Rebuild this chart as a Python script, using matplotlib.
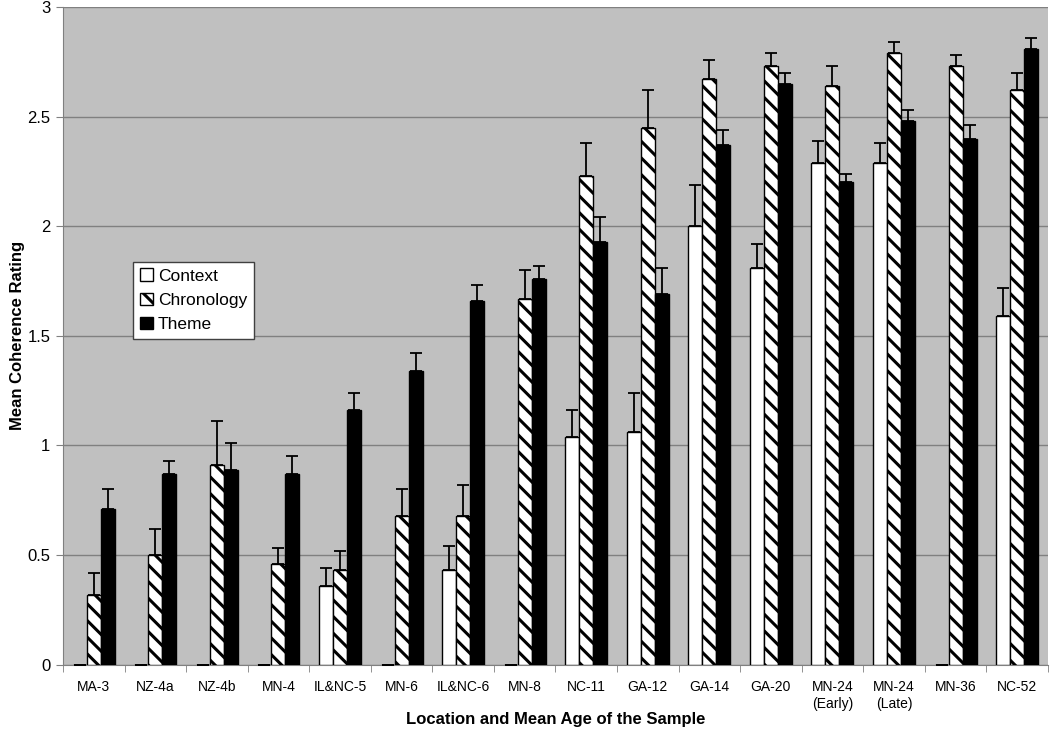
import numpy as np
import matplotlib
matplotlib.use("Agg")
import matplotlib.pyplot as plt

plt.rcParams['font.family'] = ['Liberation Sans', 'DejaVu Sans']
plt.rcParams['hatch.linewidth'] = 2.2

samples = ["MA-3", "NZ-4a", "NZ-4b", "MN-4", "IL&NC-5", "MN-6", "IL&NC-6", "MN-8",
           "NC-11", "GA-12", "GA-14", "GA-20", "MN-24\n(Early)", "MN-24\n(Late)",
           "MN-36", "NC-52"]

context = [0, 0, 0, 0, 0.36, 0, 0.43, 0, 1.04, 1.06, 2.00, 1.81, 2.29, 2.29, 0, 1.59]
context_err = [0, 0, 0, 0, 0.08, 0, 0.11, 0, 0.12, 0.18, 0.19, 0.11, 0.10, 0.09, 0, 0.13]

chronology = [0.32, 0.50, 0.91, 0.46, 0.43, 0.68, 0.68, 1.67, 2.23, 2.45, 2.67, 2.73,
              2.64, 2.79, 2.73, 2.62]
chronology_err = [0.10, 0.12, 0.20, 0.07, 0.09, 0.12, 0.14, 0.13, 0.15, 0.17, 0.09, 0.06,
                  0.09, 0.05, 0.05, 0.08]

theme = [0.71, 0.87, 0.89, 0.87, 1.16, 1.34, 1.66, 1.76, 1.93, 1.69, 2.37, 2.65,
         2.20, 2.48, 2.40, 2.81]
theme_err = [0.09, 0.06, 0.12, 0.08, 0.08, 0.08, 0.07, 0.06, 0.11, 0.12, 0.07, 0.05,
             0.04, 0.05, 0.06, 0.05]

fig = plt.figure(figsize=(10.5, 7.41), dpi=100)
ax = fig.add_axes([0.06, 0.103, 0.938, 0.8875])
ax.set_facecolor('#c0c0c0')

x = np.arange(len(samples))
w = 0.227

series = [
    (context, context_err, 'white', None, 'Context'),
    (chronology, chronology_err, 'white', '\\\\', 'Chronology'),
    (theme, theme_err, 'black', None, 'Theme'),
]

for i, (vals, errs, fc, hatch, lab) in enumerate(series):
    pos = x + (i - 1) * w
    ax.bar(pos, vals, width=w, color=fc, edgecolor='black', linewidth=1,
           hatch=hatch, label=lab, zorder=3)
    lower = np.zeros(len(vals))
    ax.errorbar(pos, vals, yerr=[lower, errs], fmt='none', ecolor='black',
                elinewidth=1.3, capsize=4, capthick=1.3, zorder=4)

ax.set_xlim(-0.5, len(samples) - 0.5)
ax.set_ylim(0, 3)
ax.set_yticks(np.arange(0, 3.01, 0.5))
ax.set_yticklabels(['0', '0.5', '1', '1.5', '2', '2.5', '3'])
ax.yaxis.grid(True, color='#808080', linewidth=1, zorder=0)
ax.set_axisbelow(True)

ax.set_xticks(x)
ax.set_xticklabels(samples, fontsize=10, linespacing=1.25)
ax.set_xticks(np.arange(-0.5, len(samples), 1), minor=True)
ax.tick_params(axis='x', which='major', length=0, pad=11)
ax.tick_params(axis='x', which='minor', length=5, color='#808080', direction='out')
ax.tick_params(axis='y', labelsize=12, length=5, color='#808080', pad=4)

for s in ['top', 'right']:
    ax.spines[s].set_visible(False)
for s in ['left', 'bottom']:
    ax.spines[s].set_color('#808080')

ax.set_ylabel('Mean Coherence Rating', fontsize=12, fontweight='bold', labelpad=2)
ax.set_xlabel('Location and Mean Age of the Sample', fontsize=12, fontweight='bold',
              labelpad=1)

leg = ax.legend(loc='upper left', bbox_to_anchor=(0.071, 0.613), fontsize=12.5,
                frameon=True, fancybox=False, edgecolor='#404040', framealpha=1,
                handlelength=0.75, handleheight=0.75, handletextpad=0.3,
                labelspacing=0.5, borderpad=0.4, borderaxespad=0)
leg.get_frame().set_linewidth(1)

fig.savefig('out.png', dpi=100, facecolor='white')
